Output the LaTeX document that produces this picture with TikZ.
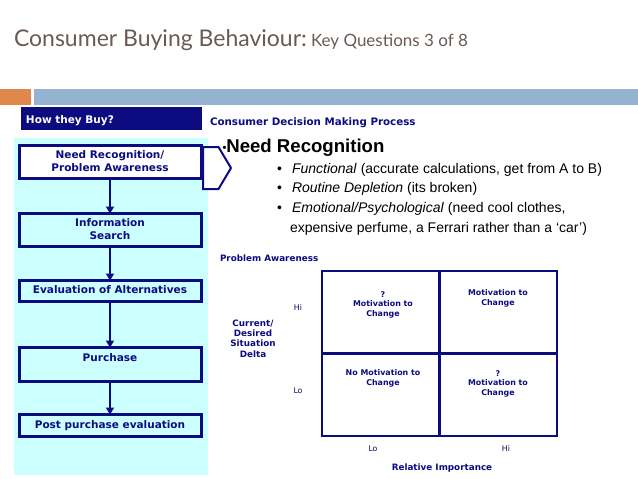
\documentclass[tikz,border=0pt]{standalone}
\usepackage{fontspec}
\setmainfont{Liberation Sans}
\newfontfamily\verd{DejaVu Sans}
\newfontfamily\titlef{Lato}
\usetikzlibrary{arrows.meta}
\definecolor{navy}{RGB}{12,12,128}
\definecolor{cyanp}{RGB}{204,255,255}
\definecolor{orangebar}{RGB}{224,135,75}
\definecolor{bluebar}{RGB}{149,179,209}
\definecolor{titlegray}{RGB}{105,90,85}
\begin{document}
\begin{tikzpicture}[x=1pt,y=-1pt,
  every node/.style={inner sep=0pt, outer sep=0pt},
  stepbox/.style={draw=navy, line width=3pt, minimum width=182pt},
  steptext/.style={text=navy, font=\verd\bfseries\fontsize{10.5}{13}\selectfont, align=center, anchor=base},
  flowarr/.style={draw=navy, line width=2pt, -{Triangle[length=7pt,width=8pt]}},
  small/.style={text=navy, font=\verd\bfseries\fontsize{7.9}{9.4}\selectfont, align=center, anchor=base},
  axis/.style={text=navy!70!black, font=\verd\fontsize{7.8}{9}\selectfont, anchor=base},
  bul/.style={font=\fontsize{14}{16}\selectfont, anchor=base west},
]
\useasboundingbox (0,0) rectangle (638,479);
% title
\node[anchor=base west, text=titlegray, font=\titlef\fontsize{23}{26}\selectfont] (t1) at (14,46) {Consumer Buying Behaviour:};
\node[anchor=base west, text=titlegray, font=\titlef\fontsize{17}{20}\selectfont] (t2) at (311,46) {Key Questions 3 of 8};
% bars
\fill[orangebar] (0,89) rectangle (31,105);
\fill[bluebar] (34,89) rectangle (638,105);
% how they buy
\fill[navy] (21,107) rectangle (202,130);
\node[anchor=base west, text=white, font=\verd\bfseries\fontsize{10.5}{12}\selectfont] (htb) at (26,123) {How they Buy?};
% panel
\fill[cyanp] (14,138) rectangle (208,475);
% boxes
\node[stepbox, fill=white, minimum height=33pt] (b1) at (110,162) {};
\node[stepbox, fill=cyanp, minimum height=33pt] (b2) at (110,230) {};
\node[stepbox, fill=cyanp, minimum height=21pt] (b3) at (110,291) {};
\node[stepbox, fill=cyanp, minimum height=34pt] (b4) at (110,364.5) {};
\node[stepbox, fill=cyanp, minimum height=22pt] (b5) at (110,425.5) {};
\node[steptext] (b1t) at (110,171) {Need Recognition/\\Problem Awareness};
\node[steptext] (b2t) at (110,239) {Information\\Search};
\node[steptext] (b3t) at (110,293) {Evaluation of Alternatives};
\node[steptext] (b4t) at (110,361) {Purchase};
\node[steptext] (b5t) at (110,428) {Post purchase evaluation};
\draw[flowarr] (b1) -- (b2);
\draw[flowarr] (b2) -- (b3);
\draw[flowarr] (b3) -- (b4);
\draw[flowarr] (b4) -- (b5);
% chevron
\draw[navy, line width=2pt, fill=white, line join=miter] (203,147) -- (218.5,147) -- (231,168) -- (218.5,189) -- (203,189) -- cycle;
% right text
\node[anchor=base west, text=navy, font=\verd\bfseries\fontsize{10.3}{12}\selectfont] (cdm) at (210,125) {Consumer Decision Making Process};
\node[anchor=base west, font=\bfseries\fontsize{18.6}{20}\selectfont] (nr) at (222.5,152.5) {{\fontsize{11}{11}\selectfont\raisebox{1.5pt}{\textbullet}}Need Recognition};
\node[bul] (d1) at (277,173) {\textbullet};
\node[bul] (l1) at (292,173) {\textit{Functional} (accurate calculations, get from A to B)};
\node[bul] (d2) at (277,192.5) {\textbullet};
\node[bul] (l2) at (292,192.5) {\textit{Routine Depletion} (its broken)};
\node[bul] (d3) at (277,212) {\textbullet};
\node[bul] (l3) at (292,212) {\textit{Emotional/Psychological} (need cool clothes,};
\node[bul] (l4) at (290,232) {expensive perfume, a Ferrari rather than a `car')};
% matrix
\node[anchor=base west, text=navy, font=\verd\bfseries\fontsize{8.8}{10}\selectfont] (pa) at (220,261) {Problem Awareness};
\draw[navy, line width=2.2pt] (322,271) rectangle (557,436);
\draw[navy, line width=2.2pt] (439.5,271) -- (439.5,436);
\draw[navy, line width=2.2pt] (322,353.5) -- (557,353.5);
\node[axis] (hi1) at (298,310) {Hi};
\node[axis] (lo1) at (298,393) {Lo};
\node[axis] (lo2) at (373,451) {Lo};
\node[axis] (hi2) at (506,451) {Hi};
\node[small, font=\verd\bfseries\fontsize{8.8}{10.3}\selectfont] (cd) at (253,357) {Current/\\Desired\\Situation\\Delta};
\node[small] (c1) at (383,316) {?\\Motivation to\\Change};
\node[small] (c2) at (498,305) {Motivation to\\Change};
\node[small] (c3) at (383,385) {No Motivation to\\Change};
\node[small] (c4) at (498,395) {?\\Motivation to\\Change};
\node[anchor=base, text=navy, font=\verd\bfseries\fontsize{8.8}{10}\selectfont] (ri) at (442,470) {Relative Importance};
\end{tikzpicture}
\end{document}
